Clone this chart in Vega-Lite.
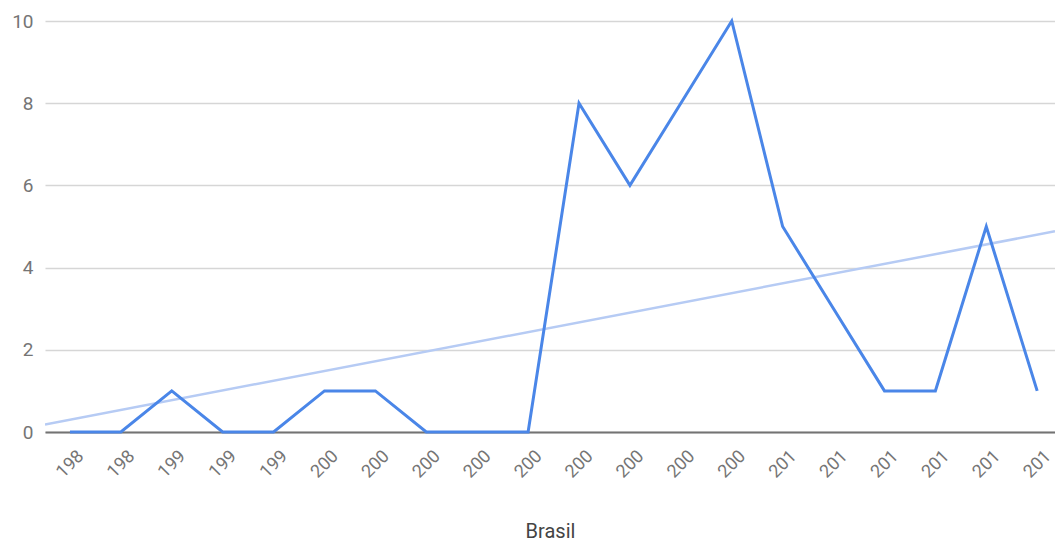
{
  "$schema": "https://vega.github.io/schema/vega-lite/v6.json",
  "width": 1010,
  "height": 411,
  "autosize": "none",
  "padding": {"left": 45, "top": 21, "right": 0, "bottom": 113},
  "background": "white",
  "config": {"view": {"stroke": null}, "font": "Roboto"},
  "data": {"values": [
    {"i": 0, "label": "198", "value": 0},
    {"i": 1, "label": "198", "value": 0},
    {"i": 2, "label": "199", "value": 1},
    {"i": 3, "label": "199", "value": 0},
    {"i": 4, "label": "199", "value": 0},
    {"i": 5, "label": "200", "value": 1},
    {"i": 6, "label": "200", "value": 1},
    {"i": 7, "label": "200", "value": 0},
    {"i": 8, "label": "200", "value": 0},
    {"i": 9, "label": "200", "value": 0},
    {"i": 10, "label": "200", "value": 8},
    {"i": 11, "label": "200", "value": 6},
    {"i": 12, "label": "200", "value": 8},
    {"i": 13, "label": "200", "value": 10},
    {"i": 14, "label": "201", "value": 5},
    {"i": 15, "label": "201", "value": 3},
    {"i": 16, "label": "201", "value": 1},
    {"i": 17, "label": "201", "value": 1},
    {"i": 18, "label": "201", "value": 5},
    {"i": 19, "label": "201", "value": 1}
  ]},
  "encoding": {
    "x": {
      "field": "i", "type": "quantitative",
      "scale": {"domain": [-0.49, 19.35], "nice": false, "zero": false},
      "axis": {
        "title": "Brasil",
        "titleFont": "Roboto", "titleFontSize": 20, "titleFontWeight": "normal", "titleColor": "#444444",
        "titlePadding": 40,
        "values": [0,1,2,3,4,5,6,7,8,9,10,11,12,13,14,15,16,17,18,19],
        "labelExpr": "['198','198','199','199','199','200','200','200','200','200','200','200','200','200','201','201','201','201','201','201'][datum.value]",
        "labelAngle": -45, "labelAlign": "center", "labelBaseline": "middle",
        "labelPadding": 32, "labelFontSize": 18, "labelColor": "#757575",
        "labelOverlap": false, "labelFlush": false,
        "ticks": false, "grid": false,
        "domainColor": "#737373", "domainWidth": 2
      }
    },
    "y": {
      "field": "value", "type": "quantitative",
      "scale": {"domain": [0, 10], "nice": false},
      "axis": {
        "title": null, "values": [0,2,4,6,8,10],
        "labelFontSize": 19, "labelColor": "#757575", "labelPadding": 12,
        "ticks": false, "domain": false,
        "gridColor": "#d6d6d6", "gridWidth": 1.5
      }
    }
  },
  "layer": [
    {
      "transform": [{"regression": "value", "on": "i", "extent": [-0.49, 19.35]}],
      "mark": {"type": "line", "color": "#b6cbf4", "strokeWidth": 2.5, "clip": true}
    },
    {
      "mark": {"type": "line", "color": "#4a86e8", "strokeWidth": 3}
    }
  ]
}
